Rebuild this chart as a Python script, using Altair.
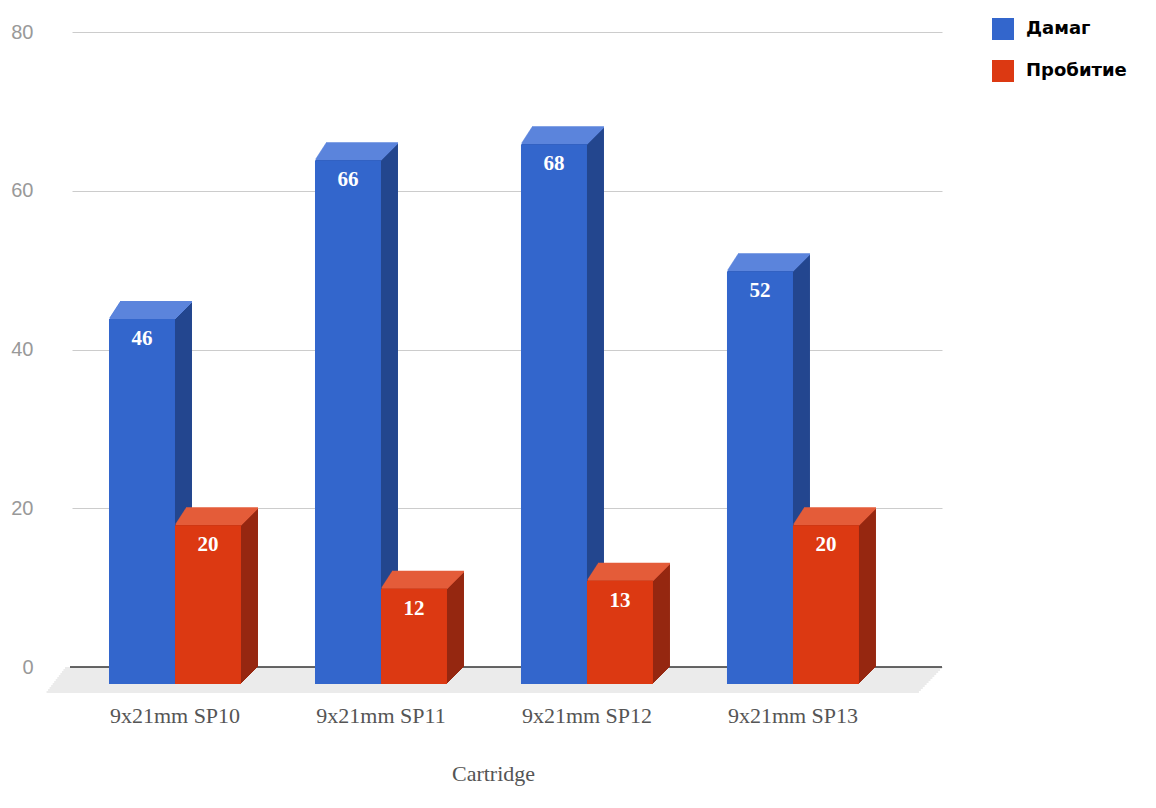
import altair as alt
import pandas as pd

# ---- data ----
cartridges = ["9x21mm SP10", "9x21mm SP11", "9x21mm SP12", "9x21mm SP13"]
series_names = ["Дамаг", "Пробитие"]
damage = [46, 66, 68, 52]
penetration = [20, 12, 13, 20]

# ---- styles ----
front_colors = ["#3366cc", "#dc3912"]
top_colors = ["#5b84dc", "#e45c3a"]
side_colors = ["#24478f", "#962811"]
floor_color = "#ebebeb"

rows = []
for name, vals in zip(series_names, [damage, penetration]):
    for c, v in zip(cartridges, vals):
        rows.append({"Cartridge": c, "series": name, "value": v})
df = pd.DataFrame(rows)

W, H = 870, 635
D = 17          # 3D depth in px
BW = 66         # bar width in px
offsets = [-33, 33]

x_enc = alt.X(
    "Cartridge:N",
    sort=cartridges,
    scale=alt.Scale(paddingInner=0, paddingOuter=0.1117, align=0),
    axis=alt.Axis(
        labelAngle=0, labelFont="Liberation Serif", labelFontSize=22,
        labelColor="#555555", labelPadding=38, ticks=False, domain=False,
        grid=False, title="Cartridge", titleFont="Liberation Serif",
        titleFontSize=22, titleFontWeight="normal", titleColor="#555555",
        titleX=421, titleY=106, titleBaseline="middle", titleAlign="center",
    ),
)
y_enc = alt.Y(
    "value:Q",
    scale=alt.Scale(domain=[0, 80], nice=False),
    axis=alt.Axis(
        values=[0, 20, 40, 60, 80], grid=True, gridColor="#cccccc",
        domain=False, ticks=False, labelPadding=39,
        labelFont="Liberation Sans", labelFontSize=20, labelColor="#999999",
        title=None,
    ),
)

layers = []

# floor (decorative slab under the bars)
floor_src = alt.Chart(pd.DataFrame({"z": [0]}))
for k in range(0, 26, 2):
    layers.append(
        floor_src.mark_rect(color=floor_color, yOffset=k, y2Offset=k + 2).encode(
            y=alt.datum(0), y2=alt.datum(0),
            x=alt.value(-7 - k * 20 / 26), x2=alt.value(W - k * 25 / 26),
        )
    )
# baseline
layers.append(
    floor_src.mark_rule(color="#333333", strokeWidth=1.5).encode(
        y=alt.datum(0), x=alt.value(-2), x2=alt.value(W)
    )
)

base = alt.Chart(df)
for i, s in enumerate(series_names):
    off = offsets[i]
    sub = base.transform_filter(alt.datum.series == s)
    # side (dark) sweep, back to front
    for k in range(D, 0, -1):
        layers.append(
            sub.mark_bar(width=BW, xOffset=off + k, yOffset=D - k, y2Offset=D - k,
                         color=side_colors[i]).encode(x=x_enc, y=y_enc, y2=alt.datum(0))
        )
    # top (light) sweep
    for d in range(D, 0, -1):
        layers.append(
            sub.mark_bar(width=BW + 6 * d / D, xOffset=off + 14 * d / D,
                         yOffset=D - d - 1, y2Offset=D - d + 1,
                         color=top_colors[i]).encode(x=x_enc, y=y_enc, y2=alt.Y2("value:Q"))
        )
    # front face
    layers.append(
        sub.mark_bar(width=BW, xOffset=off, yOffset=D, y2Offset=D).encode(
            x=x_enc, y=y_enc, y2=alt.datum(0),
            color=alt.Color(
                "series:N",
                scale=alt.Scale(domain=series_names, range=front_colors),
                legend=alt.Legend(
                    title=None, orient="none", legendX=920, legendY=-14,
                    symbolType="square", symbolSize=484, symbolStrokeWidth=0,
                    labelFont="DejaVu Sans", labelFontWeight="bold",
                    labelFontSize=18, labelColor="#000000", labelOffset=12,
                    rowPadding=20,
                ),
            ),
        )
    )
    # value labels
    layers.append(
        sub.mark_text(dx=off, dy=D + 20, baseline="middle", align="center",
                      font="Liberation Serif", fontWeight="bold", fontSize=21,
                      color="white").encode(x=x_enc, y=y_enc, text="value:Q")
    )

chart = alt.layer(*layers).properties(
    width=W, height=H,
    autosize=alt.AutoSizeParams(type="none"),
    padding={"left": 64, "top": 24, "right": 200, "bottom": 130},
    background="white",
).configure_view(stroke=None)

chart.save("out.html", embed_options={"renderer": "svg", "actions": False})
